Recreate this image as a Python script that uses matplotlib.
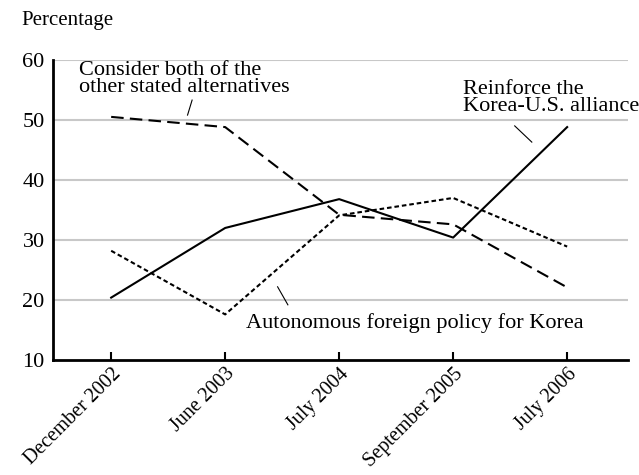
import numpy as np
import matplotlib
matplotlib.use('Agg')
import matplotlib.pyplot as plt
from matplotlib.transforms import ScaledTranslation

plt.rcParams['font.family'] = 'Liberation Serif'

# Survey dates and percentages
dates = ['December 2002', 'June 2003', 'July 2004', 'September 2005', 'July 2006']
reinforce = [20.4, 32.0, 36.8, 30.4, 48.8]      # Reinforce the Korea-U.S. alliance
consider_both = [50.5, 48.8, 34.2, 32.6, 22.1]  # Consider both alternatives
autonomous = [28.2, 17.6, 34.1, 37.0, 28.9]     # Autonomous foreign policy

x = np.arange(len(dates))

fig = plt.figure(figsize=(6.39, 4.75), dpi=100)
ax = fig.add_axes([0.083, 0.242, 0.9, 0.632])

# grid lines
for yv in [20, 30, 40, 50, 60]:
    ax.axhline(yv, color='#c8c8c8', lw=1.5, zorder=0)

ax.plot(x, reinforce, color='black', lw=1.5, ls='-')
ax.plot(x, consider_both, color='black', lw=1.5, ls=(0, (6, 3)))
ax.plot(x, autonomous, color='black', lw=1.5, ls=(0, (2.2, 1.4)))

ax.set_xlim(-0.51, 4.535)
ax.set_ylim(10, 60)
ax.set_yticks([10, 20, 30, 40, 50, 60])
ax.set_xticks(x)
ax.set_xticklabels(dates, rotation=45, ha='right', va='center', rotation_mode='anchor', fontsize=14.5)
ax.tick_params(axis='y', length=0, labelsize=16, pad=6)
ax.tick_params(axis='x', direction='in', length=6, width=1.5, pad=8)
# nudge the rotated labels a little right, as in the original
shift = ScaledTranslation(7 / 100, 0, fig.dpi_scale_trans)
for lbl in ax.get_xticklabels():
    lbl.set_transform(lbl.get_transform() + shift)

# labels with leader lines
ax.text(-0.28, 59.8, 'Consider both of the\nother stated alternatives', fontsize=16,
        va='top', ha='left', linespacing=0.85)
ax.plot([0.71, 0.67], [53.3, 50.8], color='black', lw=0.8)

ax.text(3.09, 56.7, 'Reinforce the\nKorea-U.S. alliance', fontsize=16,
        va='top', ha='left', linespacing=0.85)
ax.plot([3.54, 3.69], [49.0, 46.3], color='black', lw=0.8)

ax.text(1.18, 16.2, 'Autonomous foreign policy for Korea', fontsize=16,
        va='center', ha='left')
ax.plot([1.46, 1.55], [22.2, 19.2], color='black', lw=0.8)

for s in ['top', 'right']:
    ax.spines[s].set_visible(False)
ax.spines['left'].set_linewidth(2)
ax.spines['bottom'].set_linewidth(2)

fig.text(0.033, 0.957, 'Percentage', fontsize=15, va='center', ha='left')

fig.savefig('out.png', dpi=100)
